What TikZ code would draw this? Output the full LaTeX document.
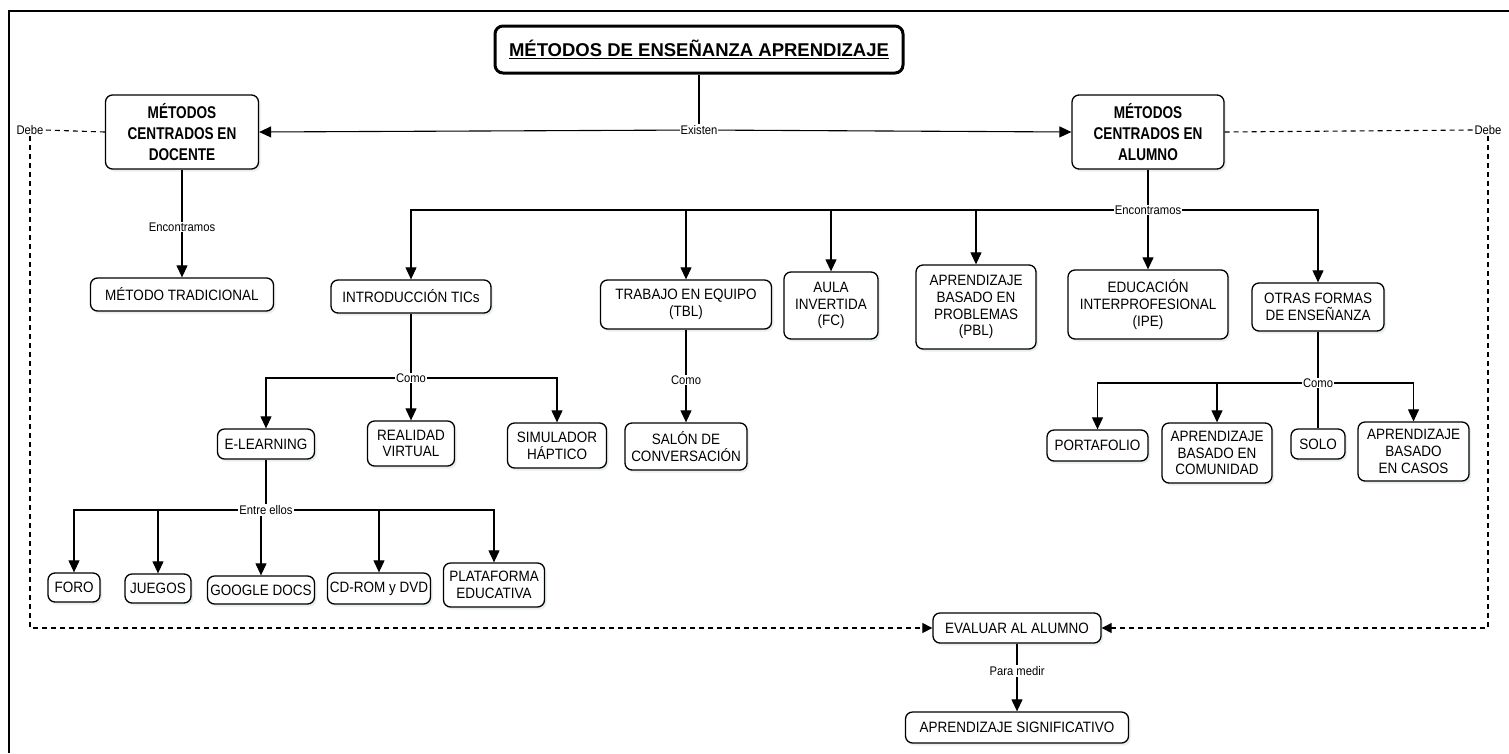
\documentclass[tikz,border=0pt]{standalone}
\usepackage{fontspec}
\setmainfont[FakeStretch=0.9]{Liberation Sans}
\newfontfamily\headfont[FakeStretch=0.8]{Liberation Sans}
\newfontfamily\titlefont{Liberation Sans}
\usetikzlibrary{arrows.meta,shadows}
\newcommand\nodefont{\fontsize{15}{16.8}\selectfont}
\newcommand\lblfont{\fontsize{12.5}{13}\selectfont}
\newcommand\headsize{\headfont\bfseries\fontsize{17}{21}\selectfont}
\tikzset{
  box/.style={draw, line width=1.3pt, rounded corners=7pt, fill=white, align=center,
    inner sep=2pt, font=\nodefont,
    drop shadow={shadow xshift=2pt, shadow yshift=-2.5pt, fill=cyan!25!gray!35, opacity=0.45}},
  headbox/.style={box, font=\headsize},
  titlebox/.style={draw, line width=3pt, rounded corners=8pt, fill=white, align=center,
    font=\titlefont\bfseries\fontsize{18.5}{22}\selectfont},
  conn/.style={line width=1.1pt},
  arr/.style={conn, -{Triangle[width=11pt,length=12pt]}},
  lbl/.style={fill=white, inner sep=1pt, font=\lblfont},
  dashline/.style={line width=1.1pt, dash pattern=on 5pt off 4pt},
  dasharr/.style={dashline, -{Triangle[width=10pt,length=10pt]}}
}
\begin{document}
\begin{tikzpicture}[x=1pt,y=-1pt]
\useasboundingbox (0,0) rectangle (1509,753);
% frame (top and left only)
\draw[line width=2.5pt] (9,753) -- (9,11) -- (1509,11);

% nodes
\node[titlebox, minimum width=408pt, minimum height=47pt] (title) at (699,49.5) {\underline{MÉTODOS DE ENSEÑANZA APRENDIZAJE}};
\node[headbox, minimum width=153pt, minimum height=74pt] (doc) at (182,132) {MÉTODOS\\CENTRADOS EN\\DOCENTE};
\node[headbox, minimum width=152pt, minimum height=74pt] (alu) at (1148,132) {MÉTODOS\\CENTRADOS EN\\ALUMNO};

\node[box, minimum width=183pt, minimum height=33pt] (trad) at (182,294.5) {MÉTODO TRADICIONAL};
\node[box, minimum width=160pt, minimum height=33pt] (tics) at (411,296.5) {INTRODUCCIÓN TICs};
\node[box, minimum width=171pt, minimum height=49pt] (tbl) at (686,304.5) {TRABAJO EN EQUIPO\\(TBL)};
\node[box, minimum width=94pt, minimum height=67pt] (aula) at (831,305.5) {AULA\\INVERTIDA\\(FC)};
\node[box, minimum width=120pt, minimum height=84pt] (pbl) at (976,307) {APRENDIZAJE\\BASADO EN\\PROBLEMAS\\(PBL)};
\node[box, minimum width=160pt, minimum height=69pt] (ipe) at (1148,304.5) {EDUCACIÓN\\INTERPROFESIONAL\\(IPE)};
\node[box, minimum width=132pt, minimum height=48pt] (otras) at (1318,307) {OTRAS FORMAS\\DE ENSEÑANZA};

\node[box, minimum width=97pt, minimum height=30pt] (elearn) at (266,444) {E-LEARNING};
\node[box, minimum width=87pt, minimum height=45pt] (rv) at (411,443.5) {REALIDAD\\VIRTUAL};
\node[box, minimum width=99pt, minimum height=45pt] (sim) at (557,445.5) {SIMULADOR\\HÁPTICO};
\node[box, minimum width=122pt, minimum height=47pt] (salon) at (686,446.5) {SALÓN DE\\CONVERSACIÓN};

\node[box, minimum width=101pt, minimum height=31pt] (port) at (1097.5,445.5) {PORTAFOLIO};
\node[box, minimum width=110pt, minimum height=60pt] (com) at (1217,453) {APRENDIZAJE\\BASADO EN\\COMUNIDAD};
\node[box, minimum width=54pt, minimum height=30pt] (solo) at (1318,444) {SOLO};
\node[box, minimum width=111pt, minimum height=59pt] (casos) at (1413.5,451.5) {APRENDIZAJE\\BASADO\\EN CASOS};

\node[box, minimum width=52pt, minimum height=29pt] (foro) at (74,587.5) {FORO};
\node[box, minimum width=66pt, minimum height=29pt] (juegos) at (158,588.5) {JUEGOS};
\node[box, minimum width=107pt, minimum height=28pt] (gdocs) at (261,590) {GOOGLE DOCS};
\node[box, minimum width=103pt, minimum height=31pt] (cdrom) at (379,588.5) {CD-ROM y DVD};
\node[box, minimum width=101pt, minimum height=44pt] (plat) at (494,585) {PLATAFORMA\\EDUCATIVA};

\node[box, minimum width=168pt, minimum height=30pt] (eval) at (1017,628) {EVALUAR AL ALUMNO};
\node[box, minimum width=223pt, minimum height=31pt] (sig) at (1017,727.5) {APRENDIZAJE SIGNIFICATIVO};

% junctions
\coordinate (ex) at (699,130);
\coordinate (enc) at (1148,210);
\coordinate (como1) at (411,378);
\coordinate (como2) at (1318,383);
\coordinate (entre) at (266,510);

% Existen
\draw[conn] (title.south) -- (ex);
\draw[arr] (ex) -- (doc.east);
\draw[arr] (ex) -- (alu.west);
\node[lbl] (exl) at (ex) {Existen};

% Docente
\draw[arr] (doc.south) -- (trad.north);
\node[lbl] (encl1) at (182,227) {Encontramos};

% Alumno
\draw[conn] (alu.south) -- (enc);
\draw[arr] (enc) -| (tics.north);
\draw[arr] (enc) -| (tbl.north);
\draw[arr] (enc) -| (aula.north);
\draw[arr] (enc) -| (pbl.north);
\draw[arr] (enc) -- (ipe.north);
\draw[arr] (enc) -| (otras.north);
\node[lbl] (encl2) at (enc) {Encontramos};

% TICs
\draw[conn] (tics.south) -- (como1);
\draw[arr] (como1) -| (elearn.north);
\draw[arr] (como1) -- (rv.north);
\draw[arr] (como1) -| (sim.north);
\node[lbl] (comol1) at (como1) {Como};

% TBL
\draw[arr] (tbl.south) -- (salon.north);
\node[lbl] (comol2) at (686,380) {Como};

% Otras formas
\draw[conn] (otras.south) -- (como2);
\draw[arr] (como2) -| (port.north);
\draw[arr] (como2) -| (com.north);
\draw[conn] (como2) -- (solo.north);
\draw[arr] (como2) -| (casos.north);
\node[lbl] (comol3) at (como2) {Como};

% E-learning
\draw[conn] (elearn.south) -- (entre);
\draw[arr] (entre) -| (foro.north);
\draw[arr] (entre) -| (juegos.north);
\draw[arr] (entre) -| (gdocs.north);
\draw[arr] (entre) -| (cdrom.north);
\draw[arr] (entre) -| (plat.north);
\node[lbl] (entrel) at (entre) {Entre ellos};

% Debe (dashed)
\node[lbl] (debeL) at (30,130) {Debe};
\node[lbl] (debeR) at (1488,130) {Debe};
\draw[dashline] (doc.west) -- (debeL.east);
\draw[dasharr] (debeL.south) |- (eval.west);
\draw[dashline] (alu.east) -- (debeR.west);
\draw[dasharr] (debeR.south) |- (eval.east);

% Para medir
\draw[arr] (eval.south) -- (sig.north);
\node[lbl] (medir) at (1017,671) {Para medir};
\end{tikzpicture}
\end{document}
